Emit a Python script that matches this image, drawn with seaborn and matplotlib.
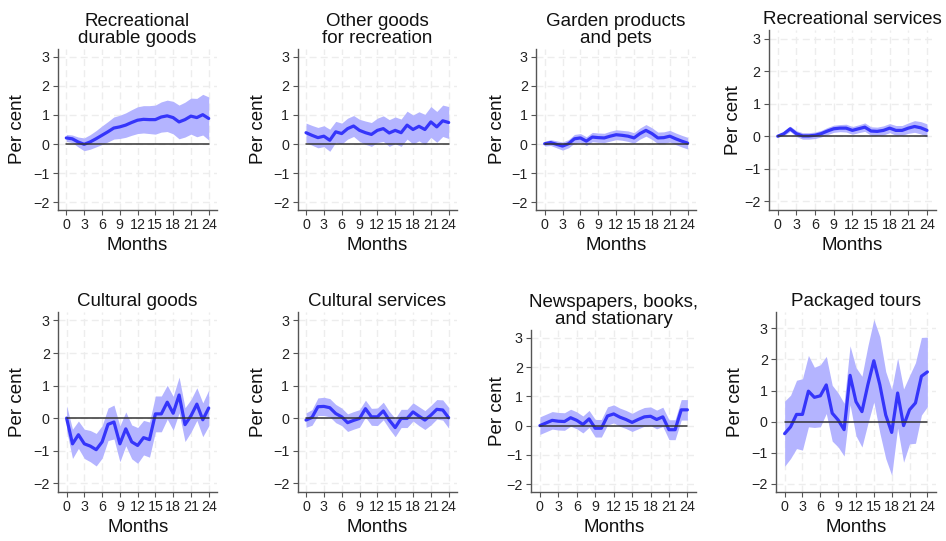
import numpy as np
import pandas as pd
import matplotlib
matplotlib.use("Agg")
import matplotlib.pyplot as plt
import seaborn as sns

# ---- data: impulse responses (per cent) and 95% half-widths, months 0-24 ----
months = list(range(25))
month_ticks = [0, 3, 6, 9, 12, 15, 18, 21, 24]
pct_ticks = [-2, -1, 0, 1, 2, 3]

titles = [
    "Recreational\ndurable goods",
    "Other goods\nfor recreation",
    "Garden products\nand pets",
    "Recreational services",
    "Cultural goods",
    "Cultural services",
    "Newspapers, books,\nand stationary",
    "Packaged tours",
]

rec_durable = [0.21, 0.18, 0.07, -0.01, 0.07, 0.18, 0.30, 0.42, 0.55, 0.59, 0.65, 0.74, 0.82,
               0.85, 0.84, 0.84, 0.93, 0.97, 0.91, 0.76, 0.84, 0.96, 0.91, 1.01, 0.88]
rec_durable_ci = [0.12, 0.13, 0.17, 0.22, 0.25, 0.28, 0.32, 0.35, 0.38, 0.40, 0.42, 0.44, 0.46,
                  0.47, 0.48, 0.50, 0.52, 0.54, 0.56, 0.58, 0.60, 0.62, 0.66, 0.70, 0.74]

other_goods = [0.39, 0.30, 0.22, 0.27, 0.13, 0.42, 0.36, 0.53, 0.62, 0.47, 0.39, 0.33, 0.47,
               0.53, 0.38, 0.47, 0.39, 0.65, 0.50, 0.61, 0.50, 0.76, 0.59, 0.80, 0.74]
other_goods_ci = [0.33, 0.34, 0.35, 0.36, 0.38, 0.36, 0.36, 0.36, 0.36, 0.38, 0.40, 0.41, 0.42,
                  0.44, 0.46, 0.46, 0.47, 0.48, 0.50, 0.50, 0.52, 0.53, 0.53, 0.54, 0.55]

garden = [0.01, 0.05, -0.01, -0.07, 0.01, 0.18, 0.21, 0.10, 0.24, 0.22, 0.21, 0.27, 0.32,
          0.30, 0.27, 0.21, 0.36, 0.47, 0.36, 0.21, 0.22, 0.27, 0.18, 0.10, 0.03]
garden_ci = [0.08, 0.10, 0.12, 0.14, 0.14, 0.15, 0.15, 0.15, 0.16, 0.16, 0.16, 0.17, 0.17,
             0.17, 0.18, 0.18, 0.19, 0.20, 0.20, 0.20, 0.20, 0.20, 0.20, 0.20, 0.20]

rec_services = [0.00, 0.08, 0.23, 0.08, 0.01, 0.01, 0.03, 0.08, 0.16, 0.23, 0.25, 0.25, 0.18,
                0.23, 0.28, 0.16, 0.15, 0.18, 0.25, 0.18, 0.18, 0.25, 0.30, 0.26, 0.18]
rec_services_ci = [0.03, 0.06, 0.08, 0.09, 0.10, 0.10, 0.10, 0.10, 0.11, 0.11, 0.11, 0.12, 0.12,
                   0.12, 0.13, 0.13, 0.13, 0.14, 0.14, 0.15, 0.15, 0.16, 0.18, 0.19, 0.20]

cultural_goods = [0.00, -0.79, -0.51, -0.79, -0.86, -0.97, -0.73, -0.19, -0.12, -0.79, -0.33, -0.73, -0.84,
                  -0.60, -0.66, 0.13, 0.13, 0.49, 0.15, 0.71, -0.20, 0.07, 0.43, -0.05, 0.31]
cultural_goods_ci = [0.38, 0.45, 0.42, 0.45, 0.48, 0.50, 0.50, 0.50, 0.52, 0.55, 0.52, 0.52, 0.55,
                     0.53, 0.54, 0.55, 0.55, 0.52, 0.52, 0.55, 0.52, 0.50, 0.50, 0.52, 0.55]

cultural_services = [-0.06, 0.02, 0.35, 0.36, 0.32, 0.14, 0.04, -0.14, -0.07, -0.01, 0.29, 0.04, 0.04,
                     0.22, -0.06, -0.29, -0.01, -0.01, 0.19, 0.06, -0.06, 0.09, 0.27, 0.25, 0.01]
cultural_services_ci = [0.22, 0.24, 0.27, 0.28, 0.28, 0.28, 0.27, 0.27, 0.27, 0.27, 0.26, 0.26, 0.27,
                        0.27, 0.27, 0.28, 0.28, 0.28, 0.28, 0.29, 0.29, 0.30, 0.30, 0.31, 0.32]

newspapers = [0.00, 0.09, 0.18, 0.15, 0.14, 0.27, 0.18, 0.04, 0.23, -0.09, -0.09, 0.33, 0.40,
              0.29, 0.21, 0.11, 0.21, 0.30, 0.32, 0.21, 0.30, -0.14, -0.14, 0.54, 0.54]
newspapers_ci = [0.30, 0.30, 0.30, 0.30, 0.30, 0.29, 0.29, 0.29, 0.29, 0.30, 0.30, 0.31, 0.31,
                 0.31, 0.31, 0.31, 0.32, 0.32, 0.32, 0.32, 0.33, 0.34, 0.34, 0.35, 0.35]

packaged_tours = [-0.39, -0.17, 0.23, 0.23, 0.98, 0.78, 0.83, 1.18, 0.27, 0.05, -0.26, 1.49, 0.64,
                  0.32, 1.19, 1.96, 1.19, 0.21, -0.35, 0.92, -0.13, 0.38, 0.60, 1.46, 1.60]
packaged_tours_ci = [1.05, 1.02, 1.10, 1.15, 1.15, 0.97, 1.00, 0.92, 0.90, 0.87, 0.85, 0.95, 1.10,
                     1.14, 1.25, 1.33, 1.55, 1.40, 1.38, 1.13, 1.18, 1.10, 1.30, 1.25, 1.12]

estimates = [rec_durable, other_goods, garden, rec_services,
             cultural_goods, cultural_services, newspapers, packaged_tours]
half_widths = [rec_durable_ci, other_goods_ci, garden_ci, rec_services_ci,
               cultural_goods_ci, cultural_services_ci, newspapers_ci, packaged_tours_ci]

# ---- style ----
sns.set_style("white")
plt.rcParams["font.family"] = ["Liberation Sans", "DejaVu Sans"]

LINE = "#3535fa"
BAND = "#b4b4ff"
ZERO = "#333333"
AXIS = "#555555"
GRID = "#ededed"

W, H = 946, 541
fig = plt.figure(figsize=(W / 100, H / 100), dpi=100)
fig.patch.set_facecolor("white")

# panel boxes in pixels: left, right, top, bottom
boxes = [
    (58, 217, 49, 210), (297.7, 457, 49, 210), (536.3, 696, 49, 210), (769, 935.7, 30, 210),
    (58.3, 217, 311.7, 492), (297.7, 457, 311.7, 492), (531.3, 696, 330, 492), (776.3, 935.7, 311.7, 492),
]
ylabel_centre = [17.5, 258.5, 497, 733.5, 17.5, 258.5, 497, 735.7]

for i, (title, est, hw) in enumerate(zip(titles, estimates, half_widths)):
    l, r, t, b = boxes[i]
    ax = fig.add_axes([l / W, 1 - b / H, (r - l) / W, (b - t) / H])

    df = pd.DataFrame({"month": months, "est": est, "hw": hw})
    df["lo"] = df["est"] - df["hw"]
    df["hi"] = df["est"] + df["hw"]
    df["zero"] = 0.0

    ax.set_axisbelow(True)
    ax.grid(True, color=GRID, linestyle=(0, (5, 3)), linewidth=1.0)

    ax.fill_between(df["month"], df["lo"], df["hi"], color=BAND, linewidth=0, zorder=1)
    sns.lineplot(data=df, x="month", y="est", ax=ax, color=LINE, linewidth=2.3, zorder=2)
    sns.lineplot(data=df, x="month", y="zero", ax=ax, color=ZERO, linewidth=1.1, zorder=3)

    top = max(3.27, df["hi"].max() + 0.25)
    ax.set_ylim(-2.27, top)
    ax.set_xlim(-1.4, 25.4)
    ax.set_xticks(month_ticks)
    ax.set_yticks(pct_ticks)

    for side in ("top", "right"):
        ax.spines[side].set_visible(False)
    for side in ("left", "bottom"):
        ax.spines[side].set_color(AXIS)
        ax.spines[side].set_linewidth(1.0)
    ax.tick_params(direction="out", length=3.6, width=0.8, color=AXIS,
                   labelsize=10.3, labelcolor="#222222", pad=2.5,
                   left=True, bottom=True)

    ax.set_title(title, fontsize=13.5, pad=4, linespacing=1.02, color="#111111")
    ax.set_xlabel("Months", fontsize=13.5, labelpad=3.5, color="#111111")
    ax.set_ylabel("Per cent", fontsize=13.5, color="#111111")
    ax.yaxis.label.set_verticalalignment("center")
    ax.yaxis.set_label_coords((ylabel_centre[i] - l) / (r - l), 0.5)

fig.savefig("out.png", dpi=100, facecolor="white")
